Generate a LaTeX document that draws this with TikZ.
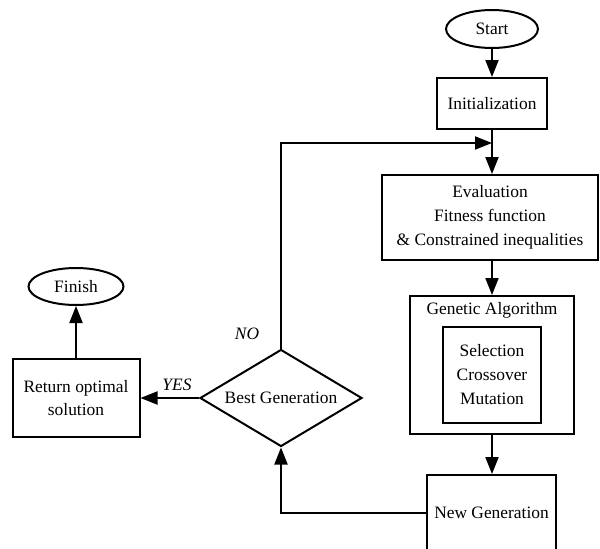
\documentclass[tikz,border=0pt]{standalone}
\usepackage{fontspec}
\setmainfont{Liberation Serif}
\usetikzlibrary{shapes.geometric,arrows.meta}
\begin{document}
\begin{tikzpicture}[x=1pt,y=-1pt,
  every node/.style={font=\fontsize{17.4}{24}\selectfont, align=center, inner sep=0pt},
  box/.style={draw, line width=2pt, rectangle},
  oval/.style={draw, line width=2pt, ellipse},
  dia/.style={draw, line width=2pt, diamond, aspect=1.67},
  conn/.style={line width=2pt, -{Triangle[length=17pt,width=13pt]}},
  lbl/.style={font=\fontsize{17.4}{20}\selectfont\itshape}]
\useasboundingbox (0,0) rectangle (600,549);
\node[oval, minimum width=92pt, minimum height=38pt] (start) at (492,29) {Start};
\node[box, minimum width=110pt, minimum height=51pt] (init) at (492,103.5) {Initialization};
\node[box, minimum width=216pt, minimum height=85pt] (eval) at (490,217.5) {Evaluation\\Fitness function\\\& Constrained inequalities};
\node[box, minimum width=164pt, minimum height=138pt] (ga) at (492,365) {};
\node (gatitle) at (492,310) {Genetic Algorithm};
\node[box, minimum width=98pt, minimum height=96pt] (ops) at (492,375) {Selection\\Crossover\\Mutation};
\node[box, minimum width=129pt, minimum height=76pt] (newgen) at (491.5,513) {New Generation};
\node[dia, minimum width=162pt, minimum height=97pt] (best) at (281,398) {Best Generation};
\node[box, minimum width=127pt, minimum height=78pt, font=\fontsize{17.4}{23}\selectfont] (ret) at (76,398) {Return optimal\\solution};
\node[oval, minimum width=95pt, minimum height=37pt] (finish) at (76,286.5) {Finish};
\coordinate (merge) at (492,143);
\draw[conn] (start) -- (init);
\draw[conn] (init.south) -- (init.south |- eval.north);
\draw[conn] (ga.north |- eval.south) -- (ga.north);
\draw[conn] (ga.south) -- (ga.south |- newgen.north);
\draw[conn] (newgen.west) -| (best.south);
\draw[conn] (best.west) -- (ret.east);
\draw[conn] (ret.north) -- (finish.south);
\draw[conn] (best.north) |- (merge);
\node[lbl] (yes) at (177,385) {YES};
\node[lbl] (no) at (247,334) {NO};
\end{tikzpicture}
\end{document}
